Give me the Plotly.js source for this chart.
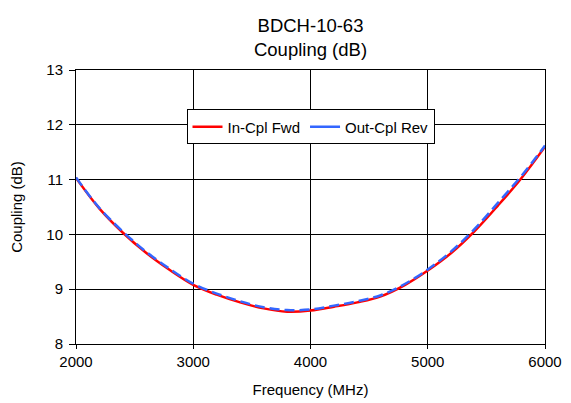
<!DOCTYPE html>
<html>
<head>
<meta charset="utf-8">
<script src="https://cdn.plot.ly/plotly-3.0.1.min.js"></script>
<style>html,body{margin:0;padding:0;background:#fff;}#chart{width:571px;height:403px;}</style>
</head>
<body>
<div id="chart"></div>
<script>
const freq = [2000,2200,2400,2600,2800,3000,3200,3400,3600,3800,4000,4200,4400,4600,4800,5000,5200,5400,5600,5800,6000];
const inCplFwd = [11.03,10.47,10.03,9.66,9.35,9.08,8.90,8.76,8.65,8.59,8.61,8.68,8.76,8.87,9.07,9.34,9.66,10.06,10.53,11.03,11.60];
const outCplRev = [11.04,10.48,10.05,9.68,9.37,9.10,8.92,8.78,8.67,8.62,8.63,8.70,8.78,8.89,9.09,9.36,9.69,10.10,10.58,11.07,11.62];
const seriesNames = ['In-Cpl Fwd', 'Out-Cpl Rev'];
const xTicks = [2000,3000,4000,5000,6000];
const yTicks = [8,9,10,11,12,13];

const FF = 'Liberation Sans, Arial, sans-serif';
const f = (s) => ({family: FF, size: s, color: '#000'});
const RED = '#ff0000', BLUE = '#3366ff';
const traces = [
  {x: freq, y: inCplFwd, name: seriesNames[0], mode: 'lines', showlegend: false, line: {color: RED, width: 2.5, shape: 'spline'}},
  {x: freq, y: outCplRev, name: seriesNames[1], mode: 'lines', showlegend: false, line: {color: BLUE, width: 2.5, dash: '10px,5px', shape: 'spline'}},
  {x: [null], y: [null], name: seriesNames[0], mode: 'lines', line: {color: RED, width: 2.5}},
  {x: [null], y: [null], name: seriesNames[1], mode: 'lines', line: {color: BLUE, width: 2.5}}
];
const layout = {
  width: 571, height: 403,
  margin: {l: 76, r: 26, t: 70, b: 59},
  paper_bgcolor: '#fff', plot_bgcolor: '#fff',
  font: f(15),
  title: {text: 'BDCH-10-63<br>Coupling (dB)', x: 0.5, xref: 'paper', xanchor: 'center', yref: 'container', y: 1 - 32/403, yanchor: 'middle', font: f(18.5)},
  xaxis: {
    range: [2000, 6000], tickvals: xTicks, ticktext: xTicks.map(String),
    showgrid: true, gridcolor: '#000', gridwidth: 1, zeroline: false,
    showline: true, linecolor: '#000', linewidth: 1, mirror: true,
    ticks: 'outside', ticklen: 4, tickcolor: '#000',
    title: {text: 'Frequency (MHz)', font: f(15), standoff: 15},
    tickfont: f(15)
  },
  yaxis: {
    range: [8, 13], tickvals: yTicks, ticktext: yTicks.map(String),
    showgrid: true, gridcolor: '#000', gridwidth: 1, zeroline: false,
    showline: true, linecolor: '#000', linewidth: 1, mirror: true,
    ticks: 'outside', ticklen: 6, tickcolor: '#000', ticklabelstandoff: 3,
    title: {text: 'Coupling (dB)', font: f(15), standoff: 20},
    tickfont: f(15)
  },
  legend: {
    orientation: 'h', x: 0.5, xanchor: 'center', y: 0.856, yanchor: 'top',
    bgcolor: '#fff', bordercolor: '#000', borderwidth: 1,
    font: f(15), itemwidth: 30, tracegroupgap: 0
  },
  showlegend: true
};
Plotly.newPlot('chart', traces, layout, {displayModeBar: false, staticPlot: true});
</script>
</body>
</html>
